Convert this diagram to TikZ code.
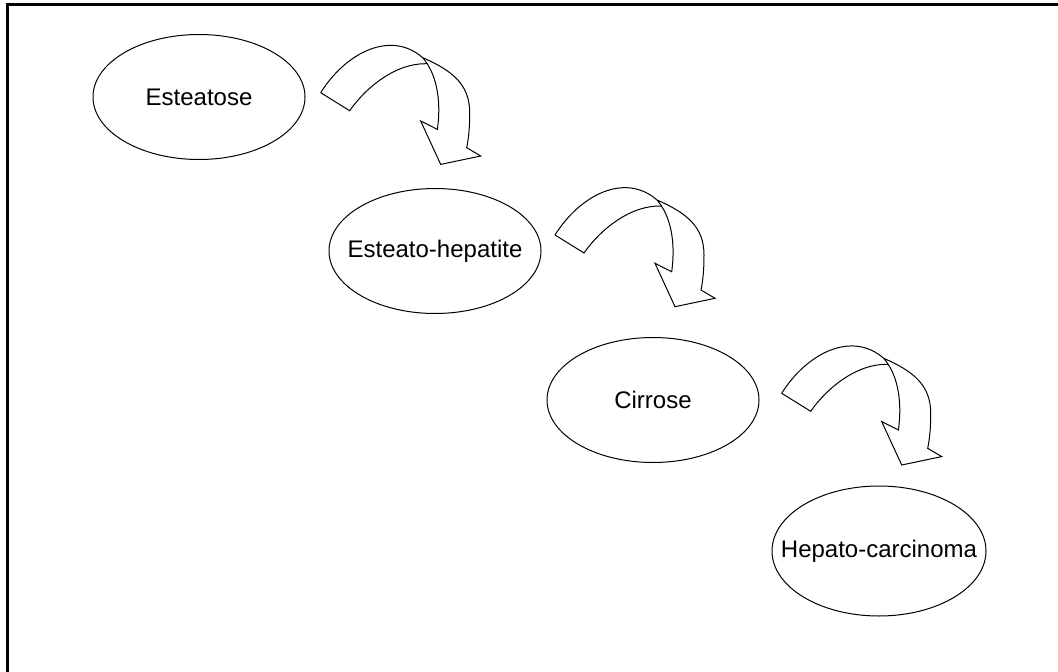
\documentclass[tikz,border=0pt]{standalone}
\usepackage{fontspec}
\setmainfont{Liberation Sans}
\usetikzlibrary{shapes.geometric}

\tikzset{
  stage/.style={draw, line width=1pt, ellipse, inner sep=0pt,
                minimum width=212pt, minimum height=125pt},
  label/.style={inner sep=0pt, font=\fontsize{24}{28}\selectfont},
  bandline/.style={draw, line width=1pt, line join=miter, fill=white},
  frameline/.style={line width=2.2pt},
  bent/.pic={
    % curved block arrow: outer band, folded back edge and head
    \path[bandline] (0,0) .. controls (25,-40) and (70,-63) .. (102,-35)
      .. controls (132,-22) and (149,-8) .. (149,20)
      .. controls (149,35) and (148,45) .. (146,55)
      -- (160,63.3) -- (120,71.7) -- (100,28.3) -- (116.7,36.7)
      .. controls (121,5) and (115,-20) .. (102,-35);
    \draw[line width=1pt] (0,0) -- (29,18)
      .. controls (45,-5) and (75,-30) .. (106.5,-29);
  }
}

\begin{document}
\begin{tikzpicture}[x=1pt, y=-1pt]
  \useasboundingbox (0,0) rectangle (1058,672);
  \clip (0,0) rectangle (1058,672);

  % page frame (only its top and left sides fall inside the view)
  \draw[frameline] (7.5,700) -- (7.5,4.5) -- (1100,4.5);

  % stages
  \node[stage] (e1) at (199,97) {};
  \node[stage] (e2) at (435,251) {};
  \node[stage] (e3) at (653,400) {};
  \node[stage, minimum width=214pt, minimum height=130pt] (e4) at (879,551) {};

  \node[label] (t1) at (e1) {Esteatose};
  \node[label] (t2) at (e2) {Esteato-hepatite};
  \node[label] (t3) at (e3) {Cirrose};
  \node[label] (t4) at (e4) {Hepato-carcinoma};

  % bent arrows between the stages
  \pic at (320.7,92.7) {bent};
  \pic at (555,235) {bent};
  \pic at (781.7,393.3) {bent};
\end{tikzpicture}
\end{document}
